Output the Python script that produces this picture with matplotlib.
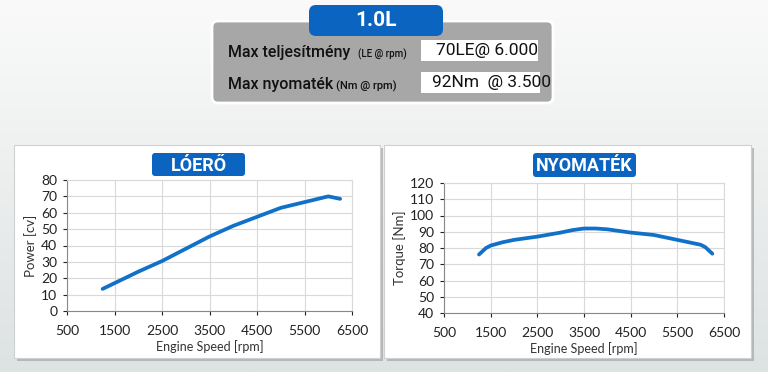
import numpy as np
from matplotlib import pyplot as plt
from matplotlib.colors import LinearSegmentedColormap
from matplotlib.patches import FancyBboxPatch, Rectangle

# adatok
rpm_power = [1250, 1500, 2000, 2500, 3000, 3500, 4000, 4500, 5000, 5500, 6000, 6250]
power = [13.5, 17, 24, 30.5, 38, 45.5, 52, 57.5, 63, 66.5, 70, 68.5]

rpm_torque = [1250, 1400, 1500, 1750, 2000, 2500, 3000, 3250, 3500, 3750, 4000, 4500,
              5000, 5500, 6000, 6100, 6250]
torque = [76, 80, 81.5, 83.5, 85, 87, 89.5, 91, 92, 92, 91.5, 89.5, 88, 85, 82, 80.5, 76.5]

x_ticks = [500, 1500, 2500, 3500, 4500, 5500, 6500]

W, H = 768, 372
BLUE = '#0a64c0'
LINE = '#1170c8'
head = ['Roboto', 'DejaVu Sans']
body = ['Lato', 'DejaVu Sans']


def px(x, y, w, h):
    # pixel box (top-left origin) -> figure coords
    return [x / W, 1 - (y + h) / H, w / W, h / H]


fig = plt.figure(figsize=(W / 100, H / 100), dpi=100)

# háttér
bg = fig.add_axes([0, 0, 1, 1])
grad = np.linspace(0, 1, 200)[:, None]
bg.imshow(grad, aspect='auto', extent=[0, W, H, 0],
          cmap=LinearSegmentedColormap.from_list('bg', ['#fafafa', '#eceeee', '#dde2e2']))
bg.set_xlim(0, W)
bg.set_ylim(H, 0)
bg.axis('off')

# felső doboz
bg.add_patch(FancyBboxPatch((212, 21), 341, 82, boxstyle='round,pad=0,rounding_size=6',
                            fc='#a7a7a7', ec='white', lw=2))
bg.add_patch(FancyBboxPatch((309, 5), 134, 31, boxstyle='round,pad=0,rounding_size=7',
                            fc=BLUE, ec='none'))
bg.text(376, 21, '1.0L', color='white', fontsize=15, fontweight='bold',
        ha='center', va='center', family=head)

bg.add_patch(Rectangle((421, 40), 117, 21, fc='white', ec='none'))
bg.add_patch(Rectangle((421, 72), 119, 21, fc='white', ec='none'))
bg.text(228, 52, 'Max teljesítmény', fontsize=11.5, fontweight='medium', ha='left',
        va='center', color='#111111', family=head)
bg.text(358, 54, '(LE @ rpm)', fontsize=7, fontweight='medium', ha='left',
        va='center', color='#111111', family=head)
bg.text(228, 85, 'Max nyomaték', fontsize=11.5, fontweight='medium', ha='left',
        va='center', color='#111111', family=head)
bg.text(336, 86, '(Nm @ rpm)', fontsize=8, fontweight='medium', ha='left',
        va='center', color='#111111', family=head)
bg.text(436, 50, '70LE@ 6.000', fontsize=12.5, ha='left', va='center',
        color='#111111', family=head)
bg.text(432, 82, '92Nm  @ 3.500', fontsize=12.5, ha='left', va='center',
        color='#111111', family=head)

# alsó panelek
for x0, w in [(14, 366), (384, 367)]:
    bg.add_patch(Rectangle((x0 + 3, 148), w, 213, fc='#9a9c9c', ec='none', alpha=0.6))
    bg.add_patch(Rectangle((x0, 145), w, 213, fc='white', ec='#d0d0d0', lw=0.8))

bg.add_patch(FancyBboxPatch((152, 153), 93, 23, boxstyle='round,pad=0,rounding_size=3',
                            fc=BLUE, ec='none'))
bg.text(198.5, 166, 'LÓERŐ', color='white', fontsize=13, fontweight='bold',
        ha='center', va='center', family=head)
bg.add_patch(FancyBboxPatch((533, 153), 103, 24, boxstyle='round,pad=0,rounding_size=3',
                            fc=BLUE, ec='none'))
bg.text(584.5, 166, 'NYOMATÉK', color='white', fontsize=13, fontweight='bold',
        ha='center', va='center', family=head)


def style(ax, yticks, ylabel):
    ax.set_xlim(500, 6500)
    ax.set_xticks(x_ticks)
    ax.set_ylim(yticks[0], yticks[-1])
    ax.set_yticks(yticks)
    ax.grid(True, color='#d9d9d9', lw=0.8)
    ax.set_axisbelow(True)
    for s in ['top', 'right']:
        ax.spines[s].set_color('#d9d9d9')
    for s in ['left', 'bottom']:
        ax.spines[s].set_color('#888888')
    for lab in ax.get_xticklabels() + ax.get_yticklabels():
        lab.set_family(body)
    ax.tick_params(axis='both', labelsize=10, colors='#222222', length=3, pad=4)
    ax.tick_params(axis='x', pad=7)
    ax.set_xlabel('Engine Speed [rpm]', fontsize=9, color='#333333', labelpad=2,
                  family=body)
    ax.set_ylabel(ylabel, fontsize=9.5, color='#333333', labelpad=3, family=body)


ax1 = fig.add_axes(px(67, 180, 285, 131))
ax1.plot(rpm_power, power, c=LINE, lw=2.7, solid_capstyle='round')
style(ax1, list(range(0, 81, 10)), 'Power [cv]')

ax2 = fig.add_axes(px(444, 183, 280, 130))
ax2.plot(rpm_torque, torque, c=LINE, lw=2.7, solid_capstyle='round')
style(ax2, list(range(40, 121, 10)), 'Torque [Nm]')

fig.savefig('out.png', dpi=100)
